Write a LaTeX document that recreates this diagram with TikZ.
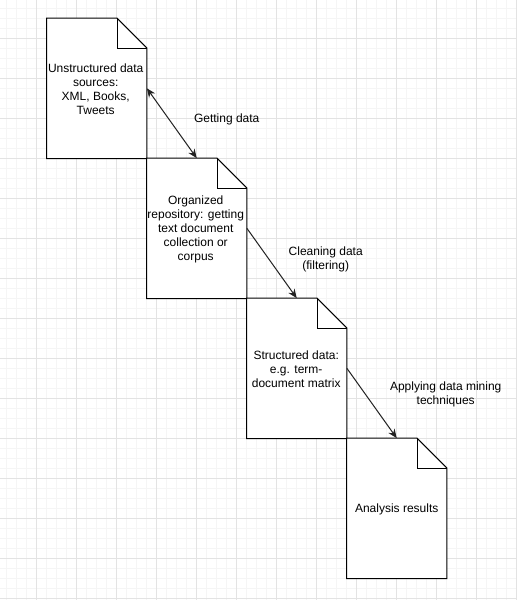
\documentclass[tikz,border=0pt]{standalone}
\usepackage{fontspec}
\setmainfont{Liberation Sans}
\usetikzlibrary{arrows.meta}
\definecolor{gridminor}{HTML}{F5F5F5}
\definecolor{gridmajor}{HTML}{E3E3E3}
\definecolor{linkc}{HTML}{222222}
\tikzset{
  docbox/.style={minimum width=100pt, minimum height=140pt, inner sep=0pt, align=center, font=\fontsize{12}{14}\selectfont},
  docline/.style={draw=black, line width=1pt, fill=white},
  foldline/.style={draw=black, line width=0.8pt},
  link/.style={draw=linkc, line width=1pt, -{Stealth[length=9pt,width=7.5pt]}},
  biglink/.style={draw=linkc, line width=1pt, {Stealth[length=9pt,width=7.5pt]}-{Stealth[length=9pt,width=7.5pt]}},
  lbl/.style={align=center, inner sep=0pt, font=\fontsize{12}{14}\selectfont},
  minorgrid/.style={draw=gridminor, line width=0.75pt},
  majorgrid/.style={draw=gridmajor, line width=0.8pt}
}
\newcommand{\docshape}[1]{%
  \draw[docline] (#1.south west) -- (#1.north west) -- ([xshift=-30pt]#1.north east) -- ([yshift=-30pt]#1.north east) -- (#1.south east) -- cycle;
  \draw[foldline] ([xshift=-30pt]#1.north east) |- ([yshift=-30pt]#1.north east);
}
\begin{document}
\begin{tikzpicture}[x=1pt,y=-1pt]
\fill[white] (0,0) rectangle (517,600);
\useasboundingbox (0,0) rectangle (517,600);
% grid
\foreach \i in {0,...,51} {\draw[minorgrid] (6.7+10*\i,0) -- (6.7+10*\i,600);}
\foreach \j in {0,...,59} {\draw[minorgrid] (0,8.3+10*\j) -- (517,8.3+10*\j);}
\foreach \i in {0,...,12} {\draw[majorgrid] (36.7+40*\i,0) -- (36.7+40*\i,600);}
\foreach \j in {0,...,14} {\draw[majorgrid] (0,38.3+40*\j) -- (517,38.3+40*\j);}
% documents
\node[docbox] (d1) at (96.7,88.3) {};
\node[docbox] (d2) at (196.7,228.3) {};
\node[docbox] (d3) at (296.7,368.3) {};
\node[docbox] (d4) at (396.7,508.3) {};
\docshape{d1}
\docshape{d2}
\docshape{d3}
\docshape{d4}
\node[lbl] (t1) at (95.7,89) {Unstructured data\\sources:\\XML, Books,\\Tweets};
\node[lbl] (t2) at (195.7,229) {Organized\\repository: getting\\text document\\collection or\\corpus};
\node[lbl] (t3) at (296.2,369) {Structured data:\\e.g. term-\\document matrix};
\node[lbl] (t4) at (396.7,509) {Analysis results};
% connectors
\draw[biglink] (d1.east) -- (d2.north);
\draw[link] (d2.east) -- (d3.north);
\draw[link] (d3.east) -- (d4.north);
% labels
\node[lbl] (l1) at (226.7,119) {Getting data};
\node[lbl] (l2) at (325.7,259) {Cleaning data\\(filtering)};
\node[lbl] (l3) at (445.7,394) {Applying data mining\\techniques};
\end{tikzpicture}
\end{document}
